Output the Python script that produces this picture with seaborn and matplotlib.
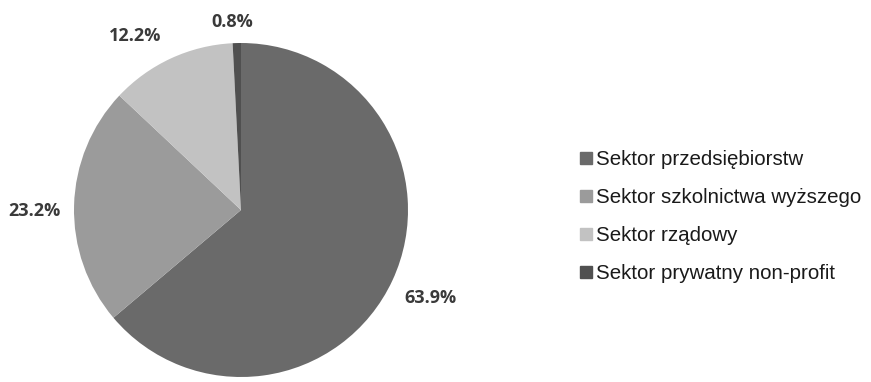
import matplotlib
matplotlib.use("Agg")
import matplotlib.pyplot as plt
import seaborn as sns
import numpy as np

categories = ["Sektor przedsiębiorstw", "Sektor szkolnictwa wyższego",
              "Sektor rządowy", "Sektor prywatny non-profit"]
values = [63.9, 23.2, 12.2, 0.8]
labels = ["63.9%", "23.2%", "12.2%", "0.8%"]
colors = ["#6a6a6a", "#9b9b9b", "#c2c2c2", "#505050"]
label_dist = [1.25, 1.24, 1.22, 1.13]
label_rot = [0.0, 1.8, 6.5, 1.3]

sns.set_theme(style="white")
plt.rcParams['font.family'] = ['Liberation Sans', 'DejaVu Sans']

fig = plt.figure(figsize=(8.71, 3.82), dpi=100)
ax = fig.add_axes([74/871, 5/382, 334/871, 334/382])
wedges, _ = ax.pie(values, colors=colors, startangle=90, counterclock=False,
                   wedgeprops=dict(linewidth=0))
ax.set_xlim(-1, 1)
ax.set_ylim(-1, 1)
ax.set_aspect('equal')

for w, lab, d, r in zip(wedges, labels, label_dist, label_rot):
    th = np.deg2rad((w.theta1 + w.theta2) / 2 + r)
    ax.text(d*np.cos(th), d*np.sin(th), lab, ha='center', va='center',
            fontsize=13, fontweight='bold', color='#3a3a3a',
            family=['Open Sans', 'DejaVu Sans'], clip_on=False)

handles = [plt.Line2D([], [], marker='s', linestyle='none', markersize=8,
                      markerfacecolor=c, markeredgecolor=c) for c in colors]
fig.legend(handles, categories, loc='upper left',
           bbox_to_anchor=(570/871, 1 - 140/382), frameon=False,
           fontsize=14.8, handlelength=0.55, handletextpad=0.2,
           labelspacing=0.92, borderpad=0, labelcolor='#1a1a1a')

fig.savefig("out.png", dpi=100)
